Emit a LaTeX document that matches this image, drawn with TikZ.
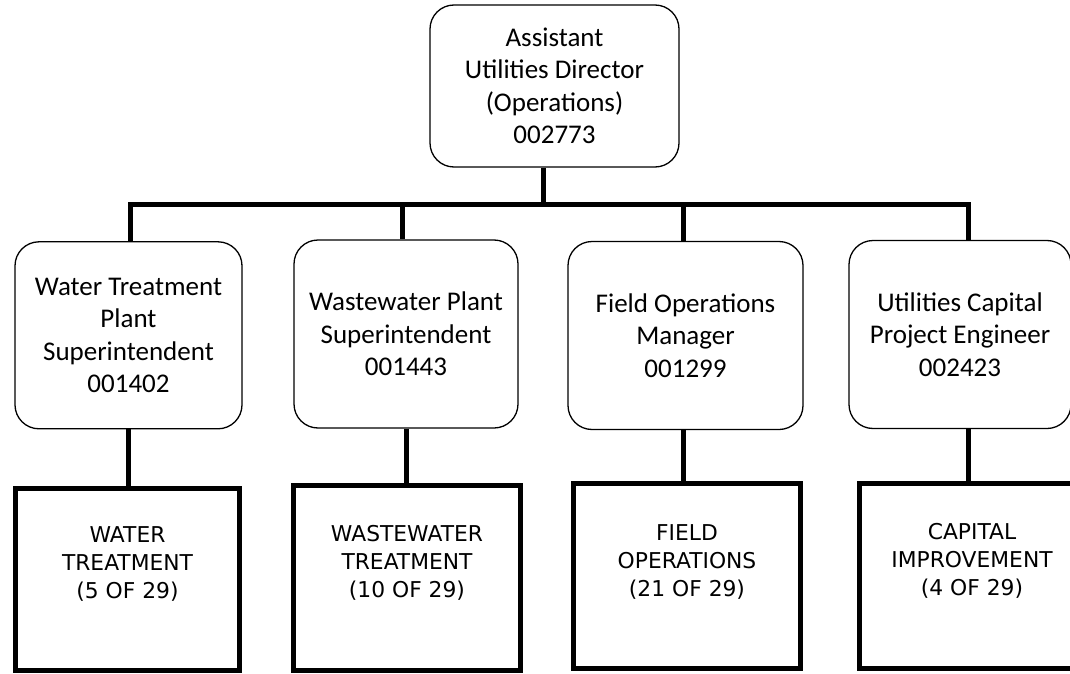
\documentclass[tikz,border=0pt]{standalone}
\usepackage{fontspec}
\setmainfont{Carlito}
\newfontfamily\unitfont{DejaVu Sans}
\usetikzlibrary{positioning, calc}
\tikzset{
    post/.style={rectangle, rounded corners=24pt, draw=black, line width=1.3pt, fill=white, align=center, inner sep=0pt, font=\fontsize{27}{32.5}\selectfont},
    unit/.style={rectangle, draw=black, line width=5pt, fill=white},
    unittext/.style={align=center, inner sep=0pt, font=\unitfont\fontsize{21.8}{28}\selectfont},
    link/.style={line width=5pt, black}
}

\begin{document}
\begin{tikzpicture}[x=1pt, y=-1pt]
    \useasboundingbox (0,0) rectangle (1070,674);

    % Director
    \node[post, minimum width=249pt, minimum height=162pt] (dir) at (554.5,86) {Assistant\\Utilities Director\\(Operations)\\002773};

    % Segunda fila: superintendentes y jefes
    \node[post, minimum width=227pt, minimum height=187pt] (wtp) at (128.5,335.3) {Water Treatment\\Plant\\Superintendent\\001402};
    \node[post, minimum width=224pt, minimum height=188pt] (wwp) at (406,334) {Wastewater Plant\\Superintendent\\001443};
    \node[post, minimum width=235pt, minimum height=188pt] (fom) at (685.5,335.5) {Field Operations\\Manager\\001299};
    \node[post, minimum width=222pt, minimum height=188pt] (cpe) at (960,334.5) {Utilities Capital\\Project Engineer\\002423};

    % Fila inferior: unidades
    \node[unit, minimum width=224pt, minimum height=182pt] (wtu) at (127.5,579) {};
    \node[unit, minimum width=226.5pt, minimum height=184.5pt] (wwu) at (407,578) {};
    \node[unit, minimum width=226.5pt, minimum height=185pt] (fou) at (687,575.5) {};
    \node[unit, minimum width=226pt, minimum height=185pt] (ciu) at (972,575.5) {};
    \node[unittext] (wtut) at ([yshift=15pt]wtu.center) {WATER\\TREATMENT\\(5 OF 29)};
    \node[unittext] (wwut) at ([yshift=15pt]wwu.center) {WASTEWATER\\TREATMENT\\(10 OF 29)};
    \node[unittext] (fout) at ([yshift=14pt]fou.center) {FIELD\\OPERATIONS\\(21 OF 29)};
    \node[unittext] (ciut) at ([yshift=15pt]ciu.center) {CAPITAL\\IMPROVEMENT\\(4 OF 29)};

    % Barra de reparto
    \coordinate (j0) at (543,204.5);
    \coordinate (j1) at (130,204.5);
    \coordinate (j2) at (402,204.5);
    \coordinate (j3) at (683,204.5);
    \coordinate (j4) at (968,204.5);

    \draw[link] (dir.south -| j0) -- (j0);
    \draw[link] (wtp.north -| j1) -- (j1) -- (j4) -- (cpe.north -| j4);
    \draw[link] (j2) -- (wwp.north -| j2);
    \draw[link] (j3) -- (fom.north -| j3);

    % Enlaces con las unidades
    \draw[link] (wtp.south) -- (wtu.north -| wtp.south);
    \draw[link] (wwp.south) -- (wwu.north -| wwp.south);
    \draw[link] (fom.south -| j3) -- (fou.north -| j3);
    \draw[link] (cpe.south -| j4) -- (ciu.north -| j4);
\end{tikzpicture}
\end{document}
